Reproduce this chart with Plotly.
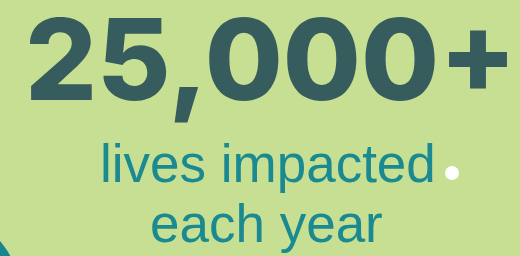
import plotly.graph_objects as go

headline = ["25,000+"]
subtitle_lines = ["lives impacted", "each year"]

BG = "#c6df93"
DARK = "#365c5e"
TEAL = "#1a8a90"

fig = go.Figure()

fig.add_annotation(x=271, y=59, text=headline[0], showarrow=False,
                   xanchor="center", yanchor="middle",
                   font=dict(family="Inter", size=113, color=DARK, weight=800))
fig.add_annotation(x=268, y=163, text=subtitle_lines[0], showarrow=False,
                   xanchor="center", yanchor="middle",
                   font=dict(family="Liberation Sans, Arial", size=53, color=TEAL))
fig.add_annotation(x=266, y=223, text=subtitle_lines[1], showarrow=False,
                   xanchor="center", yanchor="middle",
                   font=dict(family="Liberation Sans, Arial", size=53, color=TEAL))

# white dot
fig.add_shape(type="circle", x0=445, x1=459, y0=166, y1=180,
              fillcolor="white", line=dict(width=0))
# teal circle bottom-left
fig.add_shape(type="circle", x0=-74.5 - 97, x1=-74.5 + 97, y0=303 - 97, y1=303 + 97,
              fillcolor="#17868e", line=dict(width=0))

fig.update_xaxes(range=[0, 520], visible=False, fixedrange=True)
fig.update_yaxes(range=[256, 0], visible=False, fixedrange=True)
fig.update_layout(width=520, height=256, margin=dict(l=0, r=0, t=0, b=0),
                  paper_bgcolor=BG, plot_bgcolor=BG, showlegend=False)

fig.write_html("out.html", config={"displayModeBar": False},
               post_script="document.body.style.margin='0';document.body.style.background='%s';" % BG)
